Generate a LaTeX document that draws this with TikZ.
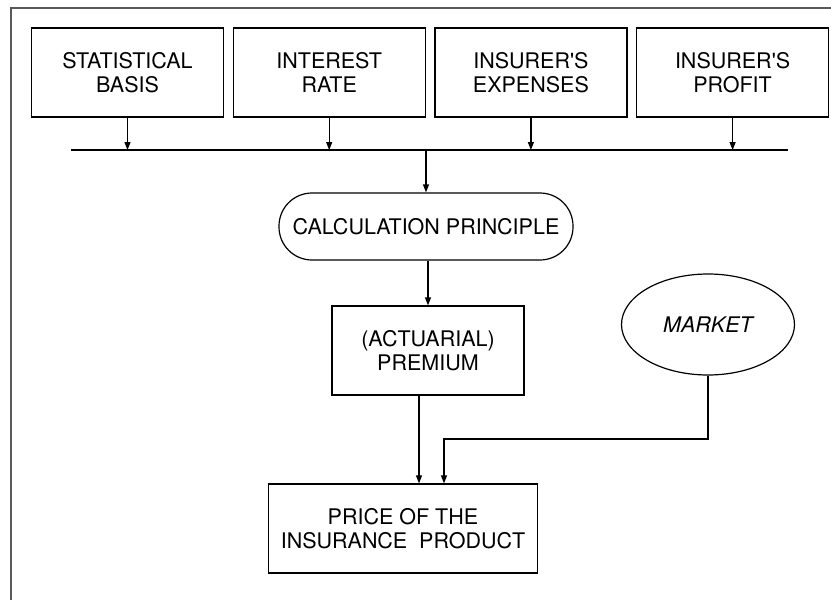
\documentclass[tikz,border=0pt]{standalone}
\usepackage{fontspec}
\setmainfont{TeX Gyre Heros}
\usetikzlibrary{arrows.meta,positioning,shapes.geometric}

\begin{document}
\begin{tikzpicture}[x=1pt, y=-1pt, >={Triangle[length=8pt,width=6pt]},
  every node/.style={font=\fontsize{21.5}{24.5}\selectfont, align=center},
  factor/.style={draw, line width=1.2pt, minimum width=192pt, minimum height=89pt, inner sep=0pt},
  stadium/.style={draw, line width=1.2pt, rounded corners=33pt, minimum width=294pt, minimum height=67pt, inner sep=0pt},
  link/.style={line width=1.2pt}]
\useasboundingbox (0,0) rectangle (831,600);
\draw[line width=1.6pt, gray!70!black] (11,600) -- (11,8) -- (831,8);

\node[factor] (stat) at (127.5,72.5) {STATISTICAL\\BASIS};
\node[factor, right=8.5pt of stat] (rate) {INTEREST\\RATE};
\node[factor, right=8.5pt of rate] (cost) {INSURER\textquotesingle S\\EXPENSES};
\node[factor, right=8.5pt of cost] (gain) {INSURER\textquotesingle S\\PROFIT};

\coordinate (busL) at (71,150);
\coordinate (busR) at (788,150);
\draw[link] (busL) -- (busR);
\foreach \n in {stat,rate,cost,gain}
  \draw[link,->] (\n.south) -- (\n.south |- busL);

\node[stadium] (calc) at (426,226.5) {CALCULATION PRINCIPLE};
\draw[link,->] (calc.north |- busL) -- (calc.north);

\node[factor] (prem) at (428,350.5) {(ACTUARIAL)\\PREMIUM};
\draw[link,->] (prem.north |- calc.south) -- (prem.north);

\node[draw, ellipse, line width=1.2pt, minimum width=173pt, minimum height=101pt, inner sep=0pt,
  font=\fontsize{21.5}{24.5}\selectfont\itshape] (market) at (708,324.5) {MARKET};

\node[factor, minimum width=269pt] (price) at (403,528.5) {PRICE OF THE\\INSURANCE~ PRODUCT};

\draw[link,->] ([xshift=-9pt]prem.south) -- ([xshift=-9pt]prem.south |- price.north);
\coordinate (bend) at (444,439);
\draw[link,->] (market.south) |- (bend) -- (bend |- price.north);
\end{tikzpicture}
\end{document}
